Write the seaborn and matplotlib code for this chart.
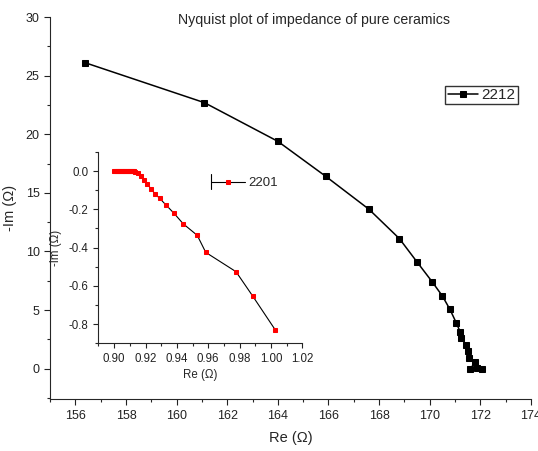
import matplotlib
matplotlib.use('Agg')
import matplotlib.pyplot as plt
import seaborn as sns
from matplotlib.lines import Line2D
from matplotlib.legend_handler import HandlerLine2D
from matplotlib.ticker import MultipleLocator

# main series "2212"
re_2212 = [156.4, 161.1, 164.0, 165.9, 167.6, 168.8, 169.5, 170.1, 170.5, 170.8,
           171.05, 171.2, 171.25, 171.45, 171.5, 171.55, 171.8, 171.6, 171.85, 172.05]
im_2212 = [26.1, 22.7, 19.4, 16.4, 13.6, 11.1, 9.1, 7.4, 6.2, 5.05,
           3.9, 3.15, 2.6, 2.0, 1.5, 0.9, 0.55, 0.0, 0.05, 0.0]

# inset series "2201"
re_2201 = [0.9000, 0.9008, 0.9016, 0.9024, 0.9032, 0.9040, 0.9048, 0.9056, 0.9064,
           0.9072, 0.9080, 0.9088, 0.9096, 0.9104, 0.9112, 0.9120, 0.9127,
           0.9135, 0.9149, 0.9170, 0.9190, 0.9212, 0.9233, 0.9260, 0.9290,
           0.9328, 0.9381, 0.9441, 0.9530, 0.9584, 0.9777, 0.9883, 1.0027]
im_2201 = [0.0, 0.0, 0.0, 0.0, 0.0, 0.0, 0.0, 0.0, 0.0,
           0.0, 0.0, 0.0, 0.0, 0.0, 0.0, -0.001, -0.002,
           -0.004, -0.010, -0.028, -0.045, -0.066, -0.092, -0.118, -0.142,
           -0.175, -0.220, -0.276, -0.336, -0.425, -0.526, -0.653, -0.830]

sns.set_style('ticks')
plt.rcParams['font.family'] = ['Liberation Sans', 'DejaVu Sans']
plt.rcParams['xtick.direction'] = 'out'
plt.rcParams['ytick.direction'] = 'out'


class CapHandler(HandlerLine2D):
    # legend handle with a small vertical bar at its left end
    def create_artists(self, legend, orig_handle, xdescent, ydescent, width, height, fontsize, trans):
        artists = super().create_artists(legend, orig_handle, xdescent, ydescent,
                                         width, height, fontsize, trans)
        cap = Line2D([-xdescent, -xdescent], [-ydescent - 0.35 * height, height - ydescent + 0.35 * height],
                     color='black', lw=0.8, transform=trans)
        return list(artists) + [cap]


fig = plt.figure(figsize=(5.38, 4.51), dpi=100)
ax = fig.add_axes([0.093, 0.115, 0.894, 0.847])

sns.lineplot(x=re_2212, y=im_2212, sort=False, estimator=None, ax=ax, color='black',
             lw=1.1, marker='s', markersize=4.6, markeredgecolor='black', label='2212')
ax.set_xlim(155, 174)
ax.set_ylim(-2.6, 30)
ax.xaxis.set_major_locator(MultipleLocator(2))
ax.xaxis.set_minor_locator(MultipleLocator(1))
ax.yaxis.set_major_locator(MultipleLocator(5))
ax.yaxis.set_minor_locator(MultipleLocator(2.5))
ax.tick_params(which='major', length=4, width=0.8, labelsize=9, colors='#222222')
ax.tick_params(which='minor', length=2.5, width=0.8)
sns.despine(ax=ax)
ax.set_xlabel('Re (Ω)', fontsize=10.5, labelpad=7)
ax.set_ylabel('-Im (Ω)', fontsize=10.5, labelpad=6)
ax.legend(loc='upper right', bbox_to_anchor=(0.962, 0.81), bbox_transform=fig.transFigure,
          frameon=True, fancybox=False, edgecolor='black', fontsize=11, handlelength=2.0,
          handletextpad=0.2, borderpad=0.15, borderaxespad=0)

fig.text(0.584, 0.955, 'Nyquist plot of impedance of pure ceramics', ha='center', va='center',
         fontsize=10.2)

# inset
axin = fig.add_axes([0.183, 0.239, 0.379, 0.424])
sns.lineplot(x=re_2201, y=im_2201, sort=False, estimator=None, ax=axin, color='black',
             lw=0.8, marker='s', markersize=2.6, markerfacecolor='red', markeredgecolor='red',
             label='2201')
axin.set_xlim(0.89, 1.02)
axin.set_ylim(-0.9, 0.1)
axin.xaxis.set_minor_locator(MultipleLocator(0.01))
axin.yaxis.set_minor_locator(MultipleLocator(0.1))
axin.set_xticks([0.90, 0.92, 0.94, 0.96, 0.98, 1.00, 1.02])
axin.set_xticklabels(['0.90', '0.92', '0.94', '0.96', '0.98', '1.00', '1.02'])
axin.set_yticks([0.0, -0.2, -0.4, -0.6, -0.8])
axin.set_yticklabels(['0.0', '-0.2', '-0.4', '-0.6', '-0.8'])
axin.tick_params(which='major', length=3.5, width=0.8, labelsize=8.3, colors='#222222')
axin.tick_params(which='minor', length=2, width=0.8)
sns.despine(ax=axin)
axin.patch.set_alpha(0)
axin.set_xlabel('Re (Ω)', fontsize=8.3, labelpad=3)
axin.set_ylabel('-Im (Ω)', fontsize=8.3, labelpad=5)
handles, labels = axin.get_legend_handles_labels()
axin.legend(handles, labels, handler_map={handles[0]: CapHandler(numpoints=1)},
            loc='center left', bbox_to_anchor=(211 / 538, 1 - 183 / 451),
            bbox_transform=fig.transFigure, frameon=False, fontsize=9.5,
            handlelength=2.6, handletextpad=0.2, borderpad=0, borderaxespad=0)

fig.savefig('out.png', dpi=100)
